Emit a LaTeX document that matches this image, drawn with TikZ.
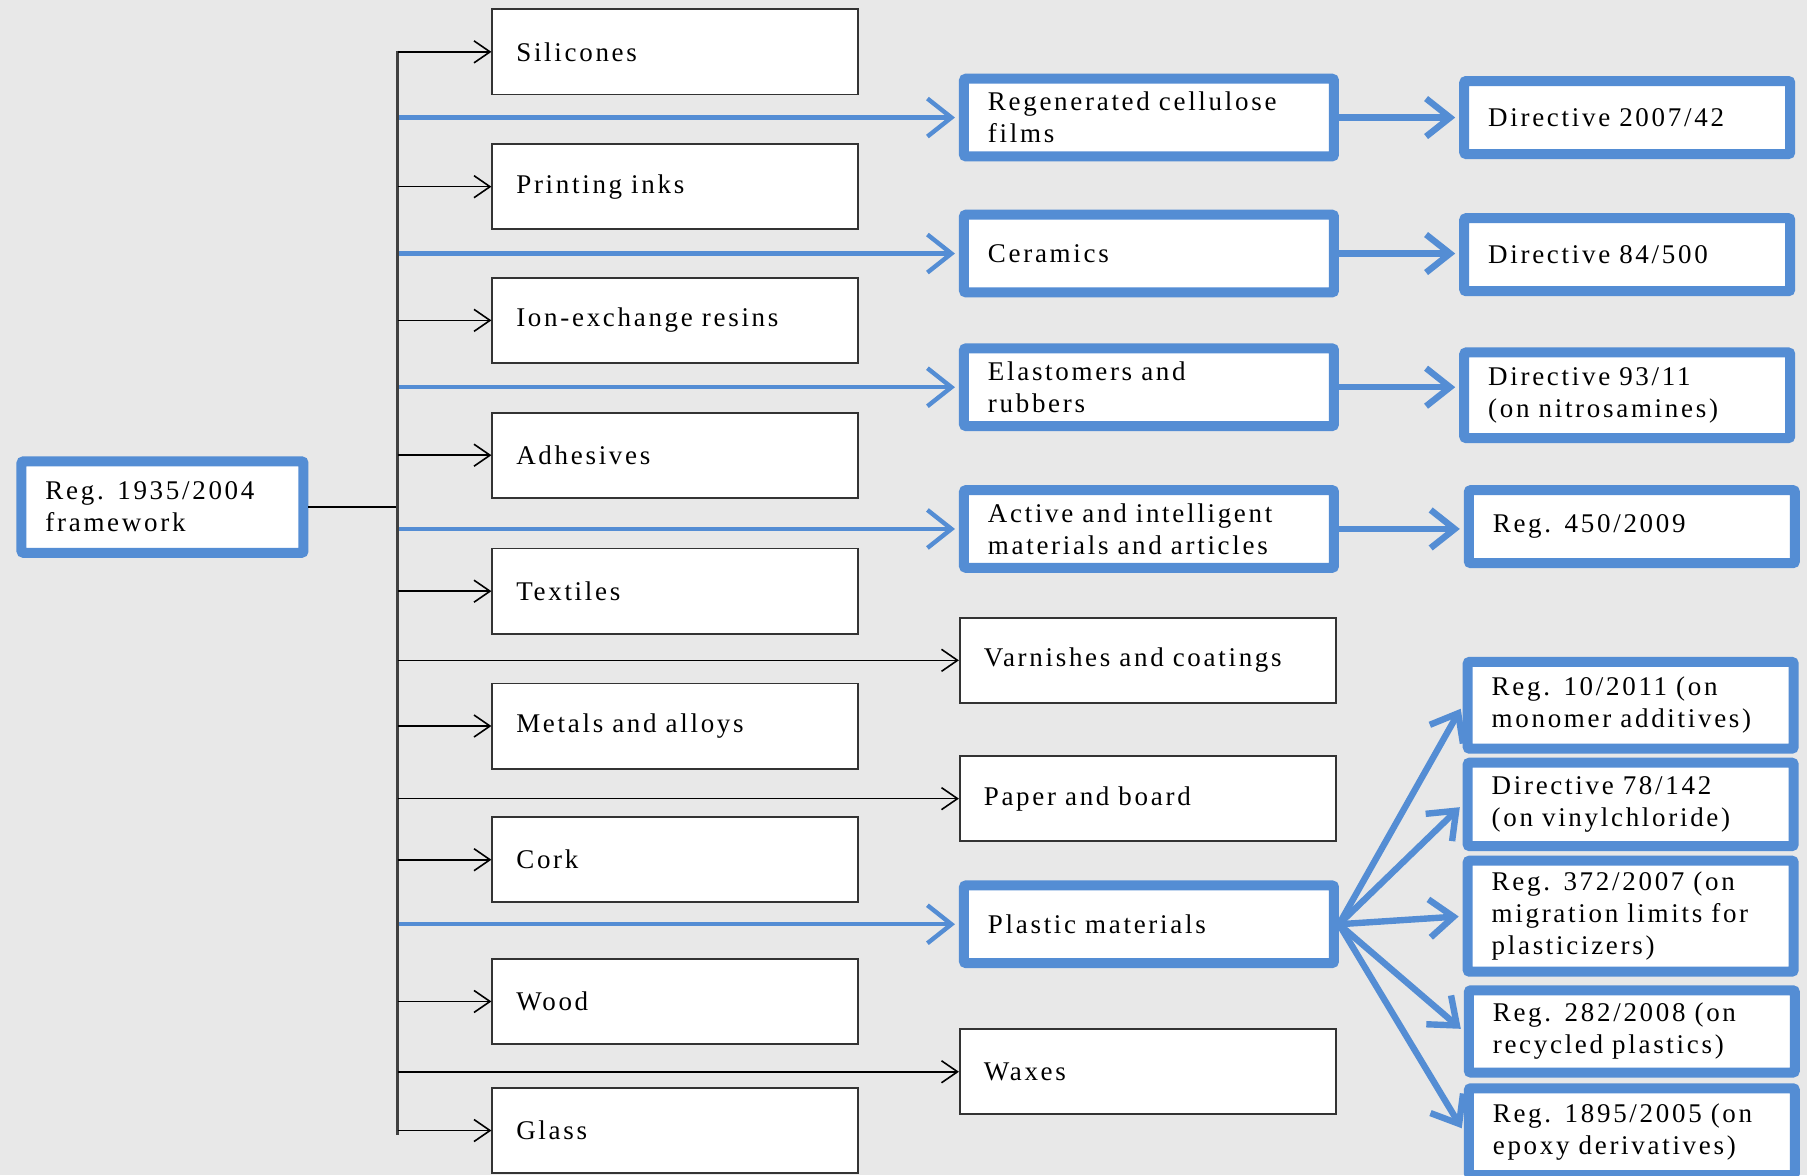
\documentclass[tikz,border=0pt]{standalone}
\usepackage{fontspec}
\setmainfont{Liberation Serif}[LetterSpace=10]
\usetikzlibrary{arrows.meta,positioning}
\definecolor{regblue}{RGB}{84,141,212}
\definecolor{bggrey}{RGB}{232,232,232}
\tikzset
{
  matbox/.style   = {rectangle, draw=black!80, line width=0.9pt, fill=white, align=left, inner xsep=12pt, minimum height=42.6pt, text width=159pt},
  keybox/.style   = {rectangle, draw=regblue, line width=5pt, rounded corners=1pt, fill=white, align=left, inner xsep=12pt},
  midkey/.style   = {keybox, text width=161pt, minimum height=38.8pt},
  lawbox/.style   = {keybox, text width=139pt, minimum height=36.5pt},
  thinarrow/.style = {-{Straight Barb[length=8pt,width=11pt]}, line width=0.8pt, black},
  bluearrow/.style = {-{Straight Barb[length=12pt,width=19pt]}, line width=2.2pt, regblue, shorten >=2pt},
  fatarrow/.style  = {bluearrow, line width=3.2pt}
}
\begin{document}
\begin{tikzpicture}[x=0.5762pt, y=-0.5762pt, font=\fontsize{13.5pt}{16pt}\selectfont]
  \fill[bggrey] (0,0) rectangle (1568,1020);
  \useasboundingbox (0,0) rectangle (1568,1020);

  % framework
  \node [keybox, text width=117pt, minimum height=45.7pt] (frame) at (141,440) {Reg. 1935/2004\\framework};

  % materials without specific rules
  \node [matbox] (silic) at (586,45) {Silicones};
  \node [matbox] (inks) at (586,162) {Printing inks};
  \node [matbox] (resin) at (586,278) {Ion-exchange resins};
  \node [matbox] (adhes) at (586,395) {Adhesives};
  \node [matbox] (textl) at (586,513) {Textiles};
  \node [matbox] (metal) at (586,630) {Metals and alloys};
  \node [matbox] (cork) at (586,746) {Cork};
  \node [matbox] (wood) at (586,869) {Wood};
  \node [matbox] (glass) at (586,981) {Glass};

  % middle column
  \node [midkey] (regen) at (997,102) {Regenerated cellulose\\films};
  \node [midkey] (ceram) at (997,220) {Ceramics};
  \node [midkey] (elast) at (997,336) {Elastomers and\\rubbers};
  \node [midkey] (activ) at (997,459) {Active and intelligent\\materials and articles};
  \node [matbox, text width=164pt] (varn) at (996,573) {Varnishes~and~coatings};
  \node [matbox, text width=164pt] (paper) at (996,693) {Paper and board};
  \node [midkey] (plast) at (997,802) {Plastic materials};
  \node [matbox, text width=164pt] (waxes) at (996,930) {Waxes};

  % specific measures
  \node [lawbox] (dira) at (1412,102) {Directive 2007/42};
  \node [lawbox] (dirb) at (1412,221) {Directive 84/500};
  \node [lawbox, minimum height=42.8pt] (dirc) at (1412,343) {Directive 93/11\\(on nitrosamines)};
  \node [lawbox] (regact) at (1416,457) {Reg. 450/2009};
  \node [lawbox, minimum height=43.4pt] (plasa) at (1415,612) {Reg. 10/2011 (on\\monomer~additives)};
  \node [lawbox, minimum height=41.7pt] (plasb) at (1415,698) {Directive 78/142\\(on vinylchloride)};
  \node [lawbox, minimum height=55.5pt] (plasc) at (1415,795) {Reg. 372/2007 (on\\migration~limits~for\\plasticizers)};
  \node [lawbox, minimum height=41.1pt] (plasd) at (1416,895) {Reg. 282/2008 (on\\recycled plastics)};
  \node [lawbox, minimum height=43.4pt] (plase) at (1416,982) {Reg. 1895/2005~(on\\epoxy derivatives)};

  % trunk
  \coordinate (trunktop) at (345,44);
  \coordinate (trunkbot) at (345,985);
  \draw [line width=0.8pt] (frame.east) -- (frame.east -| trunktop);

  \draw [bluearrow] (trunktop |- regen) -- (regen);
  \draw [bluearrow] (trunktop |- ceram) -- (ceram);
  \draw [bluearrow] (trunktop |- elast) -- (elast);
  \draw [bluearrow] (trunktop |- activ) -- (activ);
  \draw [bluearrow] (trunktop |- plast) -- (plast);

  \draw [line width=1.3pt, black!75] (trunktop) -- (trunkbot);
  \draw [thinarrow] (trunktop |- silic) -- (silic);
  \draw [thinarrow] (trunktop |- inks) -- (inks);
  \draw [thinarrow] (trunktop |- resin) -- (resin);
  \draw [thinarrow] (trunktop |- adhes) -- (adhes);
  \draw [thinarrow] (trunktop |- textl) -- (textl);
  \draw [thinarrow] (trunktop |- metal) -- (metal);
  \draw [thinarrow] (trunktop |- cork) -- (cork);
  \draw [thinarrow] (trunktop |- wood) -- (wood);
  \draw [thinarrow] (trunktop |- glass) -- (glass);
  \draw [thinarrow] (trunktop |- varn) -- (varn);
  \draw [thinarrow] (trunktop |- paper) -- (paper);
  \draw [thinarrow] (trunktop |- waxes) -- (waxes);

  % middle to measures
  \draw [fatarrow] (regen.east) -- (regen.east -| dira.west);
  \draw [fatarrow] (ceram.east) -- (ceram.east -| dirb.west);
  \draw [fatarrow] (elast.east) -- (elast.east -| dirc.west);
  \draw [fatarrow] (activ.east) -- (activ.east -| regact.west);

  \draw [fatarrow] (plast.east) -- (plasa.west);
  \draw [fatarrow] (plast.east) -- (plasb.west);
  \draw [fatarrow] (plast.east) -- (plasc.west);
  \draw [fatarrow] (plast.east) -- (plasd.west);
  \draw [fatarrow] (plast.east) -- (plase.west);
\end{tikzpicture}
\end{document}
